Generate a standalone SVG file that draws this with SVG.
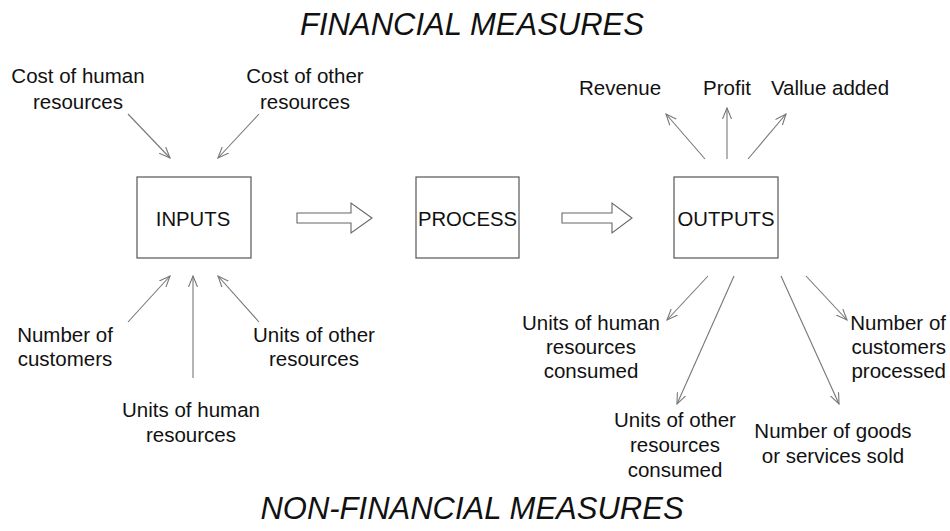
<svg xmlns="http://www.w3.org/2000/svg" width="950" height="531" viewBox="0 0 950 531">
  <defs>
    <style>
      text { font-family: "Liberation Sans", Arial, sans-serif; fill: #111; }
      .lbl { font-size: 20.5px; text-anchor: middle; }
      .box-t { font-size: 20.3px; text-anchor: middle; }
      .title { font-size: 31px; font-style: italic; text-anchor: middle; }
      .box { fill: #fff; stroke: #555; stroke-width: 1.2; }
      .link { stroke: #777; stroke-width: 1.1; fill: none; marker-end: url(#open); }
      .flow { fill: #fff; stroke: #666; stroke-width: 1.1; }
    </style>
    <marker id="open" viewBox="0 0 12 10" refX="11" refY="5" markerWidth="12" markerHeight="10" markerUnits="userSpaceOnUse" orient="auto">
      <path d="M0,0.5 L11,5 L0,9.5" fill="none" stroke="#777" stroke-width="1.1"/>
    </marker>
  </defs>
  <rect width="950" height="531" fill="#fff"/>

  <text class="title" x="472" y="35">FINANCIAL MEASURES</text>
  <text class="title" x="472" y="519">NON-FINANCIAL MEASURES</text>

  <g id="inputs">
    <rect class="box" x="137" y="177" width="114" height="81"/>
    <text class="box-t" x="193" y="226">INPUTS</text>
  </g>
  <g id="process">
    <rect class="box" x="416" y="177" width="103" height="81"/>
    <text class="box-t" x="467.5" y="226">PROCESS</text>
  </g>
  <g id="outputs">
    <rect class="box" x="674" y="177" width="104" height="81"/>
    <text class="box-t" x="726" y="226">OUTPUTS</text>
  </g>

  <!-- input measures -->
  <g id="cost-human">
    <text class="lbl" x="78" y="83">Cost of human</text>
    <text class="lbl" x="78" y="109">resources</text>
  </g>
  <g id="cost-other">
    <text class="lbl" x="305" y="83">Cost of other</text>
    <text class="lbl" x="305" y="109">resources</text>
  </g>
  <g id="num-customers">
    <text class="lbl" x="65" y="342">Number of</text>
    <text class="lbl" x="65" y="366">customers</text>
  </g>
  <g id="units-other">
    <text class="lbl" x="314" y="342">Units of other</text>
    <text class="lbl" x="314" y="366">resources</text>
  </g>
  <g id="units-human">
    <text class="lbl" x="191" y="417">Units of human</text>
    <text class="lbl" x="191" y="442">resources</text>
  </g>

  <!-- output measures -->
  <g id="revenue"><text class="lbl" x="620" y="95">Revenue</text></g>
  <g id="profit"><text class="lbl" x="727" y="95">Profit</text></g>
  <g id="value-added"><text class="lbl" x="830" y="95">Vallue added</text></g>
  <g id="units-human-consumed">
    <text class="lbl" x="591" y="330">Units of human</text>
    <text class="lbl" x="591" y="354">resources</text>
    <text class="lbl" x="591" y="378">consumed</text>
  </g>
  <g id="units-other-consumed">
    <text class="lbl" x="675" y="427">Units of other</text>
    <text class="lbl" x="675" y="452">resources</text>
    <text class="lbl" x="675" y="477">consumed</text>
  </g>
  <g id="goods-sold">
    <text class="lbl" x="833" y="438">Number of goods</text>
    <text class="lbl" x="833" y="463">or services sold</text>
  </g>
  <g id="customers-processed">
    <text class="lbl" x="946" y="330" style="text-anchor:end">Number of</text>
    <text class="lbl" x="946" y="354" style="text-anchor:end">customers</text>
    <text class="lbl" x="946" y="378" style="text-anchor:end">processed</text>
  </g>

  <g id="connectors">
    <!-- block flow arrows -->
    <polygon class="flow" points="297,213 351,213 351,203 372,218 351,233 351,223 297,223"/>
    <polygon class="flow" points="562,213 612,213 612,203 632,218 612,233 612,223 562,223"/>
    <!-- into INPUTS -->
    <line class="link" x1="128" y1="114" x2="170" y2="158"/>
    <line class="link" x1="259" y1="114" x2="218" y2="158"/>
    <line class="link" x1="128" y1="322" x2="170" y2="276"/>
    <line class="link" x1="193" y1="378" x2="193" y2="276"/>
    <line class="link" x1="259" y1="322" x2="218" y2="276"/>
    <!-- out of OUTPUTS -->
    <line class="link" x1="705" y1="159" x2="666" y2="114"/>
    <line class="link" x1="727" y1="159" x2="727" y2="108"/>
    <line class="link" x1="748" y1="159" x2="786" y2="114"/>
    <line class="link" x1="708" y1="276" x2="667" y2="320"/>
    <line class="link" x1="734" y1="276" x2="677" y2="404"/>
    <line class="link" x1="781" y1="276" x2="839" y2="404"/>
    <line class="link" x1="806" y1="276" x2="847" y2="320"/>
  </g>
</svg>
